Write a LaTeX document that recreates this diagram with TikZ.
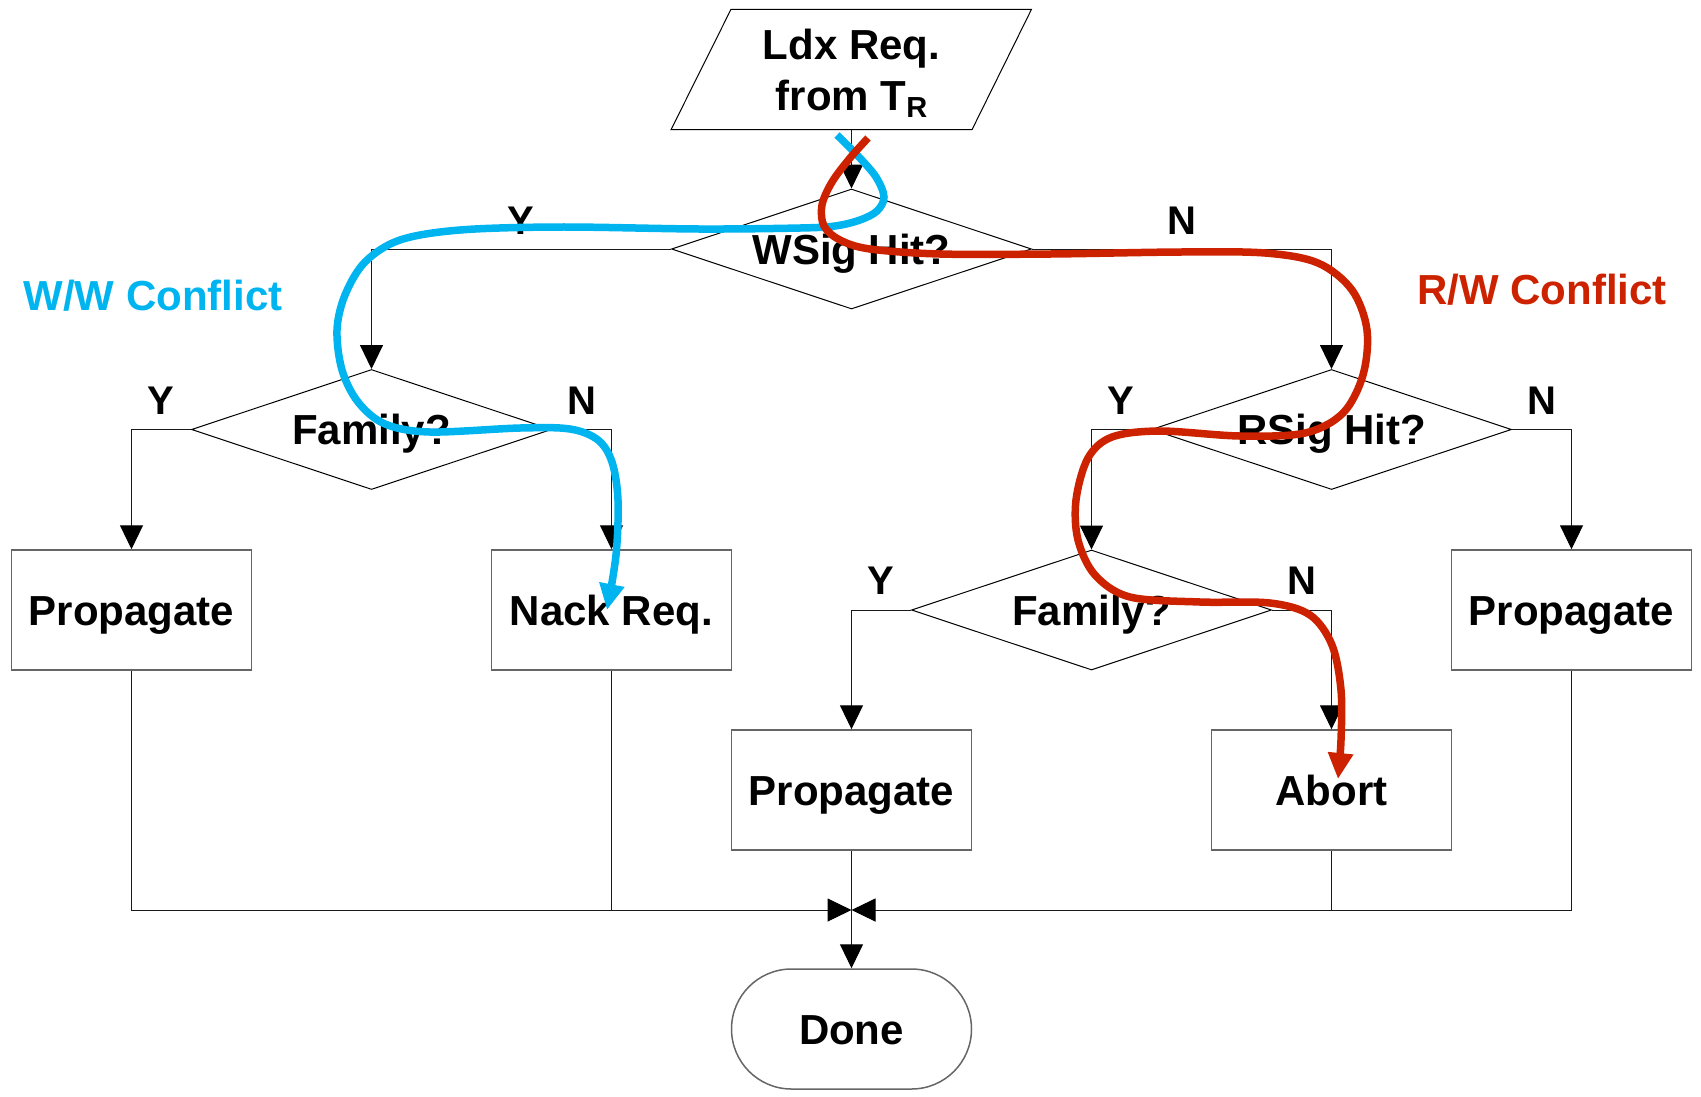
\documentclass[tikz,border=0pt]{standalone}
\usepackage{fontspec}
\setmainfont{Liberation Sans}
\usetikzlibrary{arrows.meta,shapes.geometric,shapes.misc}
\definecolor{wwblue}{RGB}{0,180,240}
\definecolor{rwred}{RGB}{204,34,0}
\begin{document}
\begin{tikzpicture}[x=1pt,y=-1pt,
  txt/.style={font=\fontsize{42}{51}\selectfont\bfseries, text height=30pt, text depth=0pt, inner sep=0pt},
  procbox/.style={txt, draw=black!60, line width=1.5pt, minimum width=240pt, minimum height=120pt},
  decide/.style={txt, diamond, draw=black, line width=1pt, minimum width=360pt, minimum height=120pt, aspect=3},
  termbox/.style={txt, rounded rectangle, draw=black!60, line width=1.5pt, minimum width=240pt, minimum height=120pt},
  conn/.style={draw=black!90, line width=1pt},
  arr/.style={conn, -{Triangle[length=24pt,width=23pt,fill=black,color=black]}},
  lbl/.style={font=\fontsize{40}{40}\selectfont\bfseries, text height=28.5pt, text depth=0pt, inner sep=0pt},
  trail/.style={line width=7.5pt, -{Triangle[length=26pt,width=24pt]}},
  note/.style={font=\fontsize{42}{42}\selectfont\bfseries, inner sep=0pt, anchor=base}
]
\useasboundingbox (0,0) rectangle (1701,1096);

% start node (parallelogram drawn around it)
\node[txt, align=center, text height=81pt, text depth=0pt, minimum width=240pt, minimum height=120pt] (ldx) at (851.5,69.5)
  {Ldx Req.\\from T{\fontsize{29}{29}\selectfont\raisebox{-7pt}{R}}};
\draw[black, line width=1pt] ([xshift=-180.5pt]ldx.south) -- ([xshift=120.5pt]ldx.south)
  -- ([xshift=180pt]ldx.north) -- ([xshift=-120.5pt]ldx.north) -- cycle;

% decisions
\node[decide] (wsig) at (851.5,249) {WSig Hit?};
\node[decide] (famA) at (371.5,429.5) {Family?};
\node[decide] (rsig) at (1331.5,429.5) {RSig Hit?};
\node[decide] (famB) at (1091.5,610) {Family?};

% processes
\node[procbox] (propA) at (131.5,610) {Propagate};
\node[procbox] (nack) at (611.5,610) {Nack Req.};
\node[procbox] (propC) at (1571.5,610) {Propagate};
\node[procbox] (propB) at (851.5,790) {Propagate};
\node[procbox] (abort) at (1331.5,790) {Abort};
\node[termbox] (done) at (851.5,1029) {Done};

\coordinate (m) at (851.5,910);

% connectors
\draw[arr] (ldx.south) -- (wsig.north);
\draw[arr] (wsig.west) -| node[lbl,pos=0.25,yshift=29pt] (wy) {Y} (famA.north);
\draw[arr] (wsig.east) -| node[lbl,pos=0.25,yshift=29pt] (wn) {N} (rsig.north);
\draw[arr] (famA.west) -| node[lbl,pos=0.25,yshift=29.5pt] (fay) {Y} (propA.north);
\draw[arr] (famA.east) -| node[lbl,pos=0.25,yshift=29.5pt] (fan) {N} (nack.north);
\draw[arr] (rsig.west) -| node[lbl,pos=0.25,yshift=29.5pt] (ry) {Y} (famB.north);
\draw[arr] (rsig.east) -| node[lbl,pos=0.25,yshift=29.5pt] (rn) {N} (propC.north);
\draw[arr] (famB.west) -| node[lbl,pos=0.25,yshift=30pt] (fby) {Y} (propB.north);
\draw[arr] (famB.east) -| node[lbl,pos=0.25,yshift=30pt] (fbn) {N} (abort.north);

\draw[arr] (propA.south) |- (m);
\draw[arr] (propC.south) |- (m);
\draw[conn] (nack.south) -- (nack.south |- m);
\draw[conn] (abort.south) -- (abort.south |- m);
\draw[arr] (propB.south) -- (done.north);

% conflict notes
\node[note, text=wwblue] (ww) at (153,310) {W/W Conflict};
\node[note, text=rwred] (rw) at (1542,304) {R/W Conflict};

% highlighted paths
\draw[trail, wwblue] plot[smooth, tension=0.55] coordinates {
  (837,135) (858,156) (876,177) (884,197) (877,211) (860,220) (835,226) (800,228)
  (700,229) (560,227) (460,230) (400,240) (365,262) (345,295) (337,330) (342,370)
  (358,402) (385,424) (430,432) (520,428) (570,429) (598,440) (612,462) (618,500)
  (616,555) (607,610)};
\draw[trail, rwred] plot[smooth, tension=0.55] coordinates {
  (868,138) (850,158) (832,182) (822,205) (824,226) (840,240) (870,249) (940,254)
  (1050,254) (1180,252) (1265,253) (1318,263) (1352,290) (1367,330) (1363,375)
  (1343,413) (1305,433) (1240,436) (1160,431) (1112,437) (1088,458) (1076,500)
  (1078,540) (1095,575) (1130,597) (1200,602) (1270,603) (1310,615) (1332,645)
  (1341,690) (1341,740) (1338,779)};
\end{tikzpicture}
\end{document}
